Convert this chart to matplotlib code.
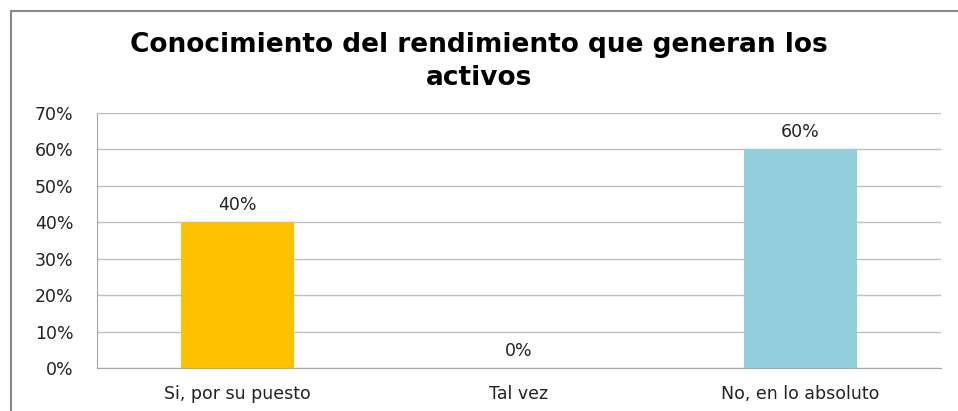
import matplotlib
matplotlib.use("Agg")
import matplotlib.pyplot as plt
from matplotlib.lines import Line2D

# data
categories = ["Si, por su puesto", "Tal vez", "No, en lo absoluto"]
values = [0.40, 0.0, 0.60]
colors = ["#FFC000", "#FFC000", "#92CDDC"]
yticks = [0, 0.1, 0.2, 0.3, 0.4, 0.5, 0.6, 0.7]
ytick_labels = ["0%", "10%", "20%", "30%", "40%", "50%", "60%", "70%"]

plt.rcParams["font.family"] = ["DejaVu Sans"]

fig = plt.figure(figsize=(9.58, 4.11), dpi=100)
ax = fig.add_axes([97/958, 1 - 368/411, (941-97)/958, (368-113)/411])

x = range(len(categories))
ax.bar(x, values, width=0.4, color=colors, zorder=3)

for i, v in enumerate(values):
    ax.annotate("{:.0%}".format(v), (i, v), xytext=(0, 6), textcoords="offset points",
                ha="center", va="bottom", fontsize=12.5, color="#222222")

ax.set_xlim(-0.5, 2.5)
ax.set_ylim(0, 0.7)
ax.set_yticks(yticks)
ax.set_yticklabels(ytick_labels, fontsize=12.5, color="#222222")
ax.set_xticks(list(x))
ax.set_xticklabels(categories, fontsize=12.5, color="#222222")
ax.tick_params(length=0, pad=12)
ax.tick_params(axis="y", pad=17)
ax.grid(axis="y", color="#BFBFBF", linewidth=1, zorder=0)
for s in ["top", "right"]:
    ax.spines[s].set_visible(False)
for s in ["left", "bottom"]:
    ax.spines[s].set_color("#A6A6A6")

fig.text(0.5, 1 - 45/411, "Conocimiento del rendimiento que generan los", ha="center", va="center",
         fontsize=19, fontweight="bold")
fig.text(0.5, 1 - 78/411, "activos", ha="center", va="center", fontsize=19, fontweight="bold")

# outer chart frame (partly cut off)
fig.add_artist(Line2D([11/958, 11/958], [0, 1 - 11/411], color="#888888", lw=1.5))
fig.add_artist(Line2D([11/958, 1], [1 - 11/411, 1 - 11/411], color="#888888", lw=1.5))

fig.savefig("out.png", dpi=100)
plt.close()
